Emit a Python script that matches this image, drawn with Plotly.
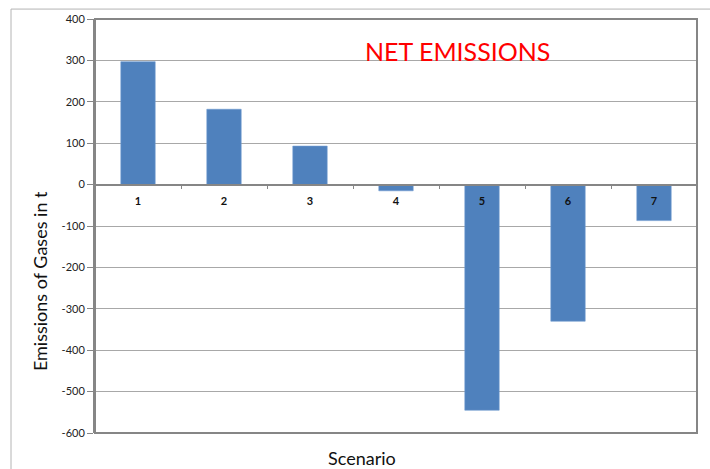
import plotly.graph_objects as go

# Net emissions per scenario (t)
scenarios = ["1", "2", "3", "4", "5", "6", "7"]
net_emissions = [297, 182, 93, -15, -545, -330, -87]

y_ticks = [400, 300, 200, 100, 0, -100, -200, -300, -400, -500, -600]
y_tick_text = ["400", "300", "200", "100", "0", "-100", "-200", "-300", "-400", "-500", "-600"]

Y_MIN, Y_MAX = -600, 400
zero_pos = (0 - Y_MIN) / (Y_MAX - Y_MIN)

FONT = "Lato"
AXIS_GREY = "#868686"
GRID_GREY = "#a8a8a8"

# plot area in pixels: x 95..697, y 16..433
PW, PH = 602, 417


def px_x(x):
    return (x - 95) / PW


def px_y(y):
    return (433 - y) / PH


fig = go.Figure()
fig.add_trace(go.Bar(
    x=scenarios,
    y=net_emissions,
    marker=dict(color="#4f81bd", line=dict(color="#6f9bd0", width=0.6)),
    width=0.4,
    hoverinfo="x+y",
))

fig.update_layout(
    width=710,
    height=469,
    margin=dict(l=95, r=13, t=16, b=36),
    paper_bgcolor="white",
    plot_bgcolor="white",
    showlegend=False,
    font=dict(family=FONT, color="#222"),
    xaxis=dict(
        type="category",
        anchor="free",
        position=zero_pos,
        showline=True,
        linecolor=AXIS_GREY,
        linewidth=1.5,
        showgrid=False,
        zeroline=False,
        ticks="outside",
        tickson="boundaries",
        ticklen=4,
        tickcolor=AXIS_GREY,
        ticklabelstandoff=6,
        tickfont=dict(size=11, family=FONT, color="#111", weight="bold"),
    ),
    yaxis=dict(
        range=[Y_MIN, Y_MAX],
        tickvals=y_ticks,
        ticktext=y_tick_text,
        showline=True,
        linecolor=AXIS_GREY,
        linewidth=2,
        showgrid=True,
        gridcolor=GRID_GREY,
        gridwidth=1,
        zeroline=False,
        ticks="outside",
        ticklen=6,
        tickcolor=AXIS_GREY,
        tickfont=dict(size=11, family=FONT, color="#222"),
    ),
)

# Plot-area border and the outer chart frame
fig.add_shape(type="rect", xref="paper", yref="paper", x0=0, x1=1, y0=0, y1=1,
              line=dict(color=AXIS_GREY, width=2), layer="above")
fig.add_shape(type="line", xref="paper", yref="paper", x0=px_x(11), x1=px_x(720),
              y0=px_y(6), y1=px_y(6), line=dict(color="#b4b4b4", width=1))
fig.add_shape(type="line", xref="paper", yref="paper", x0=px_x(11), x1=px_x(11),
              y0=px_y(480), y1=px_y(6), line=dict(color="#b4b4b4", width=1))

# Chart title and axis titles
fig.add_annotation(text="NET EMISSIONS", xref="paper", yref="paper",
                   x=px_x(457), y=px_y(48), xanchor="center", yanchor="middle",
                   showarrow=False, font=dict(size=25, color="#ff0000", family=FONT))
fig.add_annotation(text="Emissions of Gases in t", xref="paper", yref="paper",
                   x=px_x(40), y=px_y(280), xanchor="center", yanchor="middle",
                   showarrow=False, textangle=-90,
                   font=dict(size=18, color="#111", family=FONT))
fig.add_annotation(text="Scenario", xref="paper", yref="paper",
                   x=px_x(362), y=px_y(458), xanchor="center", yanchor="middle",
                   showarrow=False, font=dict(size=18, color="#111", family=FONT))

fig.write_html("out.html")
